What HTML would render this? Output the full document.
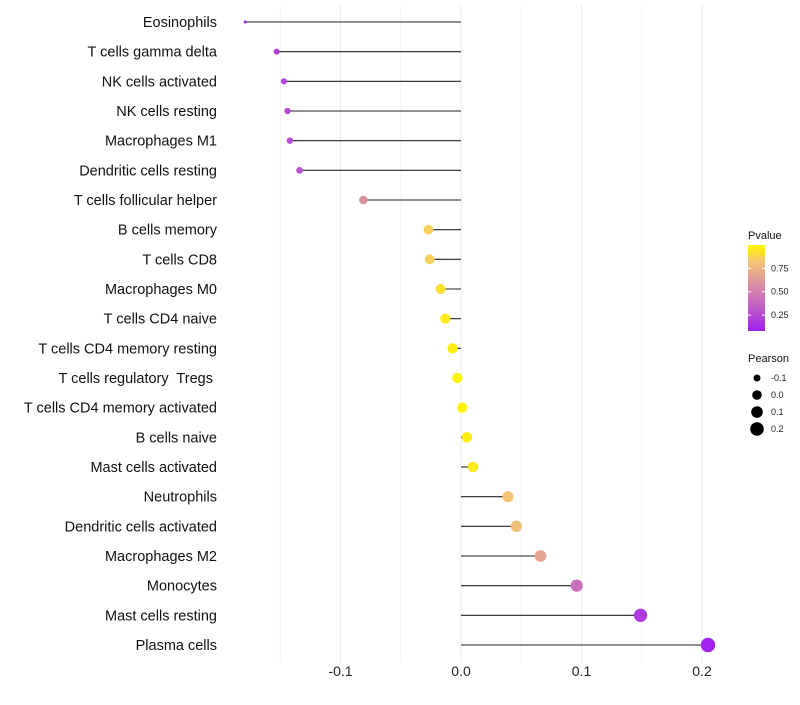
<!DOCTYPE html>
<html><head><meta charset="utf-8"><style>
body{margin:0;background:#fff;font-family:"Liberation Sans",sans-serif}
text{white-space:pre}
</style></head><body>
<svg id="c" width="800" height="700" xmlns="http://www.w3.org/2000/svg"></svg>
<script>
const categories=["Eosinophils","T cells gamma delta","NK cells activated","NK cells resting","Macrophages M1","Dendritic cells resting","T cells follicular helper","B cells memory","T cells CD8","Macrophages M0","T cells CD4 naive","T cells CD4 memory resting","T cells regulatory  Tregs ","T cells CD4 memory activated","B cells naive","Mast cells activated","Neutrophils","Dendritic cells activated","Macrophages M2","Monocytes","Mast cells resting","Plasma cells"];
const pearson=[-0.179,-0.153,-0.147,-0.144,-0.142,-0.134,-0.081,-0.027,-0.026,-0.017,-0.013,-0.007,-0.003,0.001,0.005,0.010,0.039,0.046,0.066,0.096,0.149,0.205];
const pvalues=[0.1,0.2,0.22,0.24,0.25,0.28,0.55,0.85,0.85,0.92,0.95,0.97,0.99,0.99,0.97,0.95,0.8,0.78,0.65,0.4,0.18,0.1];
const xTicks=[-0.1,0.0,0.1,0.2];
const xTickLabels=["-0.1","0.0","0.1","0.2"];
const minorTicks=[-0.15,-0.05,0.05,0.15];
const sizeLegend=[-0.1,0.0,0.1,0.2];
const colorTicks=[0.25,0.5,0.75];

const svg=document.getElementById('c');
const NS='http://www.w3.org/2000/svg';
const x=v=>461+v*1205;
const y=i=>22+i*(623/(categories.length-1));
const sizeKnots=[[-0.18,1.5],[-0.153,3],[-0.081,4.3],[0.0,5.2],[0.205,7.2]];
function r(v){
  if(v<=sizeKnots[0][0])return sizeKnots[0][1];
  for(let k=0;k<sizeKnots.length-1;k++){const a=sizeKnots[k],b=sizeKnots[k+1];
    if(v<=b[0])return a[1]+(b[1]-a[1])*(v-a[0])/(b[0]-a[0]);}
  return sizeKnots[sizeKnots.length-1][1];
}
function col(p){
  const stops=[[0.08,[160,32,240]],[0.5,[214,135,170]],[0.8,[243,196,120]],[1.0,[255,245,0]]];
  p=Math.max(0.08,Math.min(1,p));
  for(let k=0;k<stops.length-1;k++){const a=stops[k],b=stops[k+1];
    if(p<=b[0]){const t=(p-a[0])/(b[0]-a[0]);return 'rgb('+a[1].map((c,j)=>Math.round(c+(b[1][j]-c)*t)).join(',')+')';}}
  return 'rgb(255,245,0)';
}
function el(t,a,txt){const e=document.createElementNS(NS,t);for(const k in a)e.setAttribute(k,a[k]);if(txt!==undefined)e.textContent=txt;svg.appendChild(e);return e;}
minorTicks.forEach(v=>{const e=el('line',{x1:x(v),x2:x(v),y1:5,y2:662,stroke:'#f3f3f3','stroke-width':1});

});
xTicks.forEach((v,i)=>{const e=el('line',{x1:x(v),x2:x(v),y1:5,y2:662,stroke:'#ebebeb','stroke-width':1});


const t=el('text',{x:x(v),y:676,'text-anchor':'middle','font-size':14,fill:'#222'},xTickLabels[i]);

});
categories.forEach((c,i)=>{
const t=el('text',{x:217,y:y(i)+5,'text-anchor':'end','font-size':14.5,fill:'#111'},c);


const l=el('line',{x1:x(0),x2:x(pearson[i]),y1:y(i),y2:y(i),stroke:'#222','stroke-width':1.1});


const d=el('circle',{cx:x(pearson[i]),cy:y(i),r:r(pearson[i]),fill:col(pvalues[i])});


});
let t=el('text',{x:748,y:239,'font-size':11,fill:'#111'},'Pvalue');


const defs=el('defs',{});
const g=document.createElementNS(NS,'linearGradient');g.setAttribute('id','gr');g.setAttribute('x1','0');g.setAttribute('y1','1');g.setAttribute('x2','0');g.setAttribute('y2','0');
[[0,0.08],[0.3,0.35],[0.55,0.55],[0.8,0.8],[1,1]].forEach(s=>{const st=document.createElementNS(NS,'stop');st.setAttribute('offset',s[0]);st.setAttribute('stop-color',col(s[1]));g.appendChild(st);});
defs.appendChild(g);
const cb=el('rect',{x:748,y:245,width:17,height:86,fill:'url(#gr)'});


const cy=p=>331-(p-0.08)/(1.0-0.08)*86;
colorTicks.forEach(p=>{el('line',{x1:748,x2:751,y1:cy(p),y2:cy(p),stroke:'#fff'});el('line',{x1:762,x2:765,y1:cy(p),y2:cy(p),stroke:'#fff'});
const tt=el('text',{x:771,y:cy(p)+3,'font-size':9,fill:'#222'},p.toFixed(2));

});
t=el('text',{x:748,y:362,'font-size':11,fill:'#111'},'Pearson');


const legR=[3.5,4.8,5.8,6.8];
sizeLegend.forEach((v,i)=>{const yy=378+i*17;
const c=el('circle',{cx:757,cy:yy,r:legR[i],fill:'#000'});


const tt=el('text',{x:771,y:yy+3,'font-size':9,fill:'#222'},v.toFixed(1));

});
</script>
</body></html>
